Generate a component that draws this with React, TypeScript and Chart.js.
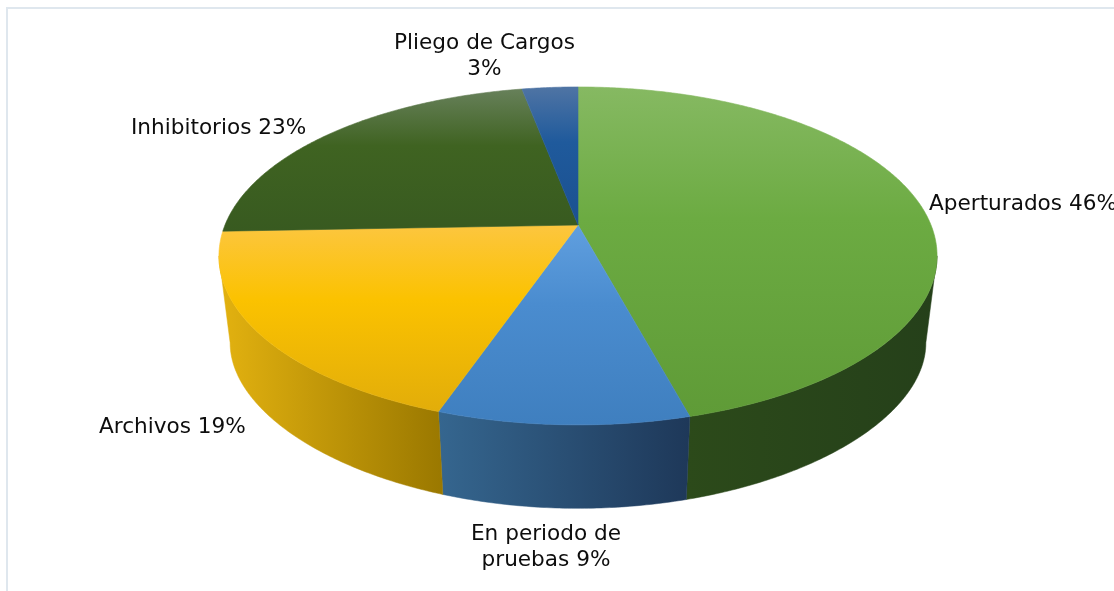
import React, { useEffect, useRef } from "react";
import { Chart, registerables } from "chart.js";

Chart.register(...registerables);

const categories = ["Aperturados", "En periodo de pruebas", "Archivos", "Inhibitorios", "Pliego de Cargos"];
const shares = [45.8, 9.5, 19.1, 22.6, 3];
const labelLines = [
  ["Aperturados 46%"],
  ["En periodo de", "pruebas 9%"],
  ["Archivos 19%"],
  ["Inhibitorios 23%"],
  ["Pliego de Cargos", "3%"],
];
const faceBase = ["#6cab42", "#4a8ccf", "#fbc200", "#3f6321", "#1f5a9c"];
const faceTop = ["#86b962", "#609fdf", "#fcc63f", "#67805a", "#4f74a4"];
const faceBottom = ["#5f9b37", "#3f7fbf", "#e2ad0a", "#385a20", "#1b5090"];
const sideLeft = ["#2c4a1a", "#35668f", "#e3b210", "#2c4a1a", "#1f3a5c"];
const sideRight = ["#25401a", "#1e3859", "#9a7800", "#25401a", "#1f3a5c"];

// Perspective of the tilted disc: upper rim and lower rim
const CX = 578;
const UPPER = { cy: 225, rx: 353, ry: 163.3, px: 0.183, py: 0.183 };
const LOWER = { cy: 315, rx: 342, ry: 145, px: 0.183, py: 0.25 };
const LABEL_FONT = '21.6px "DejaVu Sans"';
const LABEL_LINE = 26;
const labelPlacement = [
  { x: 929, y: 204, align: "left" },
  { x: 546, y: 534, align: "center" },
  { x: 99, y: 427, align: "left" },
  { x: 131, y: 128, align: "left" },
  { x: 484.5, y: 43, align: "center" },
];

type Rim = typeof UPPER;

function rimPoint(a: number, r: Rim): [number, number] {
  const u = Math.sin(a);
  return [CX + (r.rx * Math.cos(a)) / (1 - r.px * u), r.cy + (r.ry * u) / (1 - r.py * u)];
}

function arcPoints(a0: number, a1: number, r: Rim) {
  const pts: [number, number][] = [];
  const n = Math.max(2, Math.ceil((a1 - a0) / 0.01));
  for (let i = 0; i <= n; i++) pts.push(rimPoint(a0 + ((a1 - a0) * i) / n, r));
  return pts;
}

function trace(ctx: CanvasRenderingContext2D, pts: [number, number][]) {
  ctx.beginPath();
  pts.forEach(([x, y], i) => (i ? ctx.lineTo(x, y) : ctx.moveTo(x, y)));
  ctx.closePath();
}

// Part of a slice's arc that lies on the visible wall
function visibleRange(start: number, end: number, r: Rim) {
  const e = Math.asin(r.px);
  return [Math.max(start, e), Math.min(end, Math.PI - e)];
}

const tiltedPie = {
  id: "tiltedPie",
  beforeDraw(chart: any) {
    const ctx = chart.ctx;
    ctx.save();
    ctx.fillStyle = "#ffffff";
    ctx.fillRect(0, 0, chart.width, chart.height);
    ctx.strokeStyle = "#dfe7ee";
    ctx.lineWidth = 2;
    ctx.strokeRect(7, 8, chart.width + 50, chart.height + 50);
    ctx.restore();
  },
  beforeDatasetsDraw(chart: any) {
    const ctx = chart.ctx;
    const arcs = chart.getDatasetMeta(0).data;
    ctx.save();
    arcs.forEach((arc: any, i: number) => {
      const [t0, t1] = visibleRange(arc.startAngle, arc.endAngle, UPPER);
      const [b0, b1] = visibleRange(arc.startAngle, arc.endAngle, LOWER);
      if (t1 <= t0 || b1 <= b0) return;
      const top = arcPoints(t0, t1, UPPER);
      const bottom = arcPoints(b0, b1, LOWER);
      const xs = top.concat(bottom).map((p) => p[0]);
      const g = ctx.createLinearGradient(Math.min(...xs), 0, Math.max(...xs), 0);
      g.addColorStop(0, sideLeft[i]);
      g.addColorStop(1, sideRight[i]);
      ctx.fillStyle = g;
      ctx.strokeStyle = g;
      ctx.lineWidth = 0.5;
      trace(ctx, top.concat(bottom.reverse()));
      ctx.fill();
      ctx.stroke();
    });
    arcs.forEach((arc: any, i: number) => {
      const pts: [number, number][] = [[CX, UPPER.cy], ...arcPoints(arc.startAngle, arc.endAngle, UPPER)];
      const ys = pts.map((p) => p[1]);
      const y0 = Math.min(...ys), y1 = Math.max(...ys);
      const g = ctx.createLinearGradient(0, y0, 0, y1);
      g.addColorStop(0, faceTop[i]);
      g.addColorStop(0.4, arc.options.backgroundColor);
      g.addColorStop(1, faceBottom[i]);
      ctx.fillStyle = g;
      ctx.strokeStyle = g;
      ctx.lineWidth = 0.6;
      trace(ctx, pts);
      ctx.fill();
      ctx.stroke();
    });
    ctx.restore();
    return false;
  },
  afterDraw(chart: any) {
    const ctx = chart.ctx;
    ctx.save();
    ctx.font = LABEL_FONT;
    ctx.fillStyle = "#0d0d0d";
    ctx.textBaseline = "middle";
    labelLines.forEach((lines, i) => {
      const p = labelPlacement[i];
      ctx.textAlign = p.align as CanvasTextAlign;
      lines.forEach((t, k) => ctx.fillText(t, p.x, p.y + k * LABEL_LINE));
    });
    ctx.restore();
  },
};

export default function App() {
  const ref = useRef<HTMLCanvasElement>(null);
  useEffect(() => {
    const chart = new Chart(ref.current!, {
      type: "pie",
      data: {
        labels: categories,
        datasets: [{ data: shares, backgroundColor: faceBase, borderWidth: 0 }],
      },
      options: {
        animation: false,
        responsive: false,
        plugins: { legend: { display: false }, tooltip: { enabled: false } },
      },
      plugins: [tiltedPie],
    } as any);
    return () => chart.destroy();
  }, []);
  return (
    <canvas
      ref={ref}
      width={1114}
      height={591}
      style={{ position: "fixed", left: 0, top: 0, width: 1114, height: 591, display: "block" }}
    />
  );
}
